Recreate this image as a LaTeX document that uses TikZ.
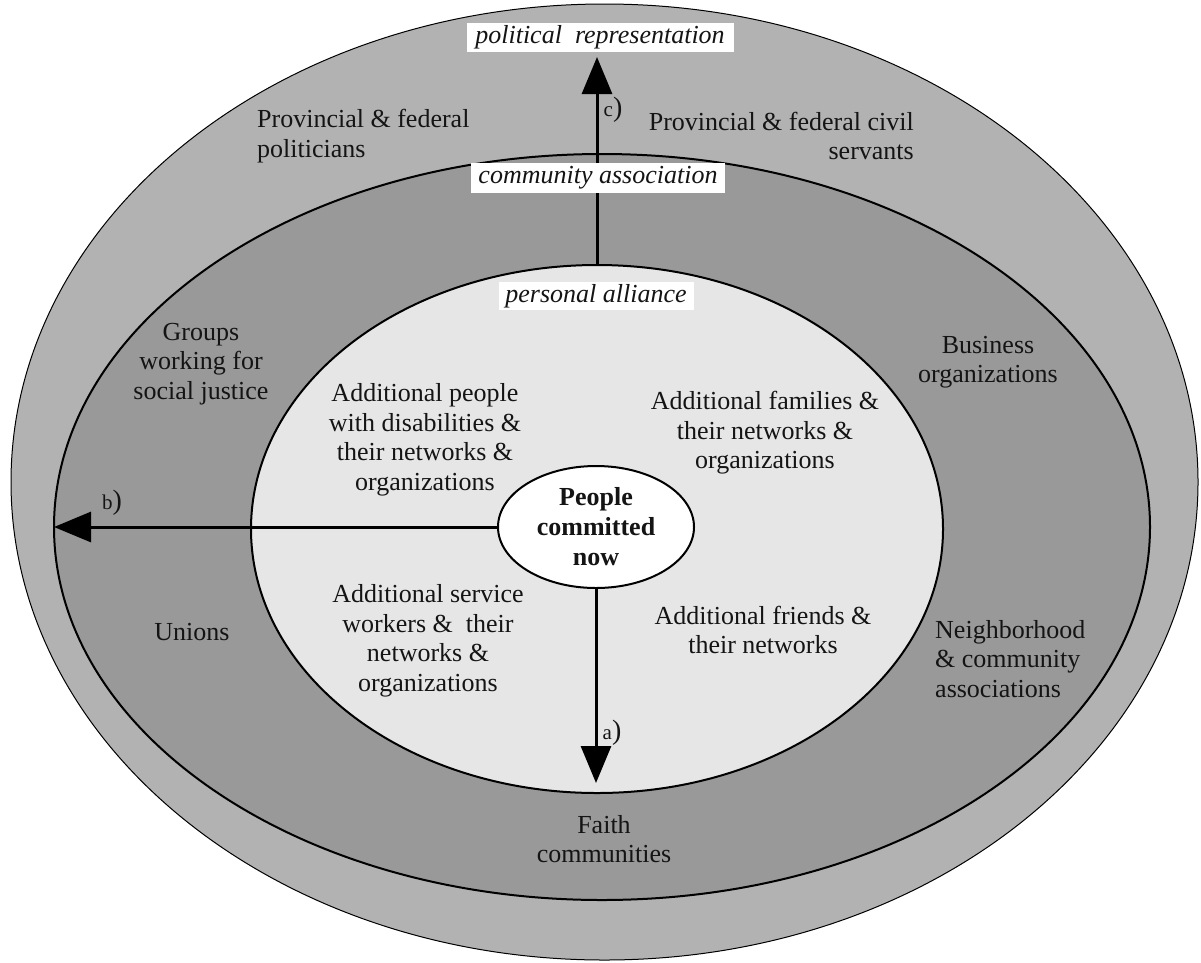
\documentclass[tikz,border=0pt]{standalone}
\usepackage{fontspec}
\setmainfont{Liberation Serif}
\usetikzlibrary{shapes.geometric,arrows.meta}
\definecolor{c1}{HTML}{B2B2B2}
\definecolor{c2}{HTML}{999999}
\definecolor{c3}{HTML}{E6E6E6}
\definecolor{txtc}{HTML}{141414}
\newcommand{\tagtext}[1]{{\fontsize{21}{24}\selectfont #1}{\fontsize{28}{30}\selectfont )}}
\begin{document}
\begin{tikzpicture}[x=1pt,y=-1pt,
  txt/.style={font=\fontsize{26}{29.5}\selectfont, text=txtc, inner sep=0pt, align=center},
  ring/.style={ellipse, draw=black, inner sep=0pt, outer sep=0pt},
  lab/.style={fill=white, inner sep=0pt, font=\fontsize{26}{29.5}\selectfont\itshape, text=txtc},
  arr/.style={line width=3pt, -{Triangle[length=37pt,width=30pt]}},
  tag/.style={text=txtc, inner sep=0pt}]
\useasboundingbox (0,0) rectangle (1201,962);
\fill[white] (0,0) rectangle (1201,962);
\node[ring, fill=c1, line width=1pt, minimum width=1187pt, minimum height=956pt] (outer) at (604.5,482) {};
\node[ring, fill=c2, line width=2pt, minimum width=1096pt, minimum height=746pt] (mid) at (602,527) {};
\node[ring, fill=c3, line width=2pt, minimum width=692pt, minimum height=528pt] (inner) at (597,529) {};
\node[ring, fill=white, line width=2pt, minimum width=196pt, minimum height=122pt, txt, font=\fontsize{26}{30}\selectfont\bfseries] (pc) at (596,527) {People\\committed\\now};
\coordinate (atip) at (596,783);
\coordinate (ctip) at (597,57);
\draw[arr] (pc.west) -- (mid.west);
\draw[arr] (pc.south) -- (atip);
\draw[arr] (inner.north) -- (ctip);
\node[lab, minimum width=267pt, minimum height=29pt] (pol) at (600,37.5) {political~ representation};
\node[lab, minimum width=254pt, minimum height=30pt] (comm) at (598,178) {community association};
\node[lab, minimum width=195pt, minimum height=28pt] (pers) at (596,296) {personal alliance};
\node[txt, align=left, anchor=west] (prov1) at (257,136) {Provincial \& federal\\politicians};
\node[txt, align=right, anchor=east] (prov2) at (914,136) {Provincial \& federal civil\\servants};
\node[txt] (groups) at (201,364) {Groups\\working for\\social justice};
\node[txt] (adp) at (425,440) {Additional people\\with disabilities \&\\their networks \&\\organizations};
\node[txt] (adf) at (765,433) {Additional families \&\\their networks \&\\organizations};
\node[txt] (bus) at (988,362) {Business\\organizations};
\node[txt] (ads) at (428,641) {Additional service\\workers \&~ their\\networks \&\\organizations};
\node[txt] (uni) at (192,632) {Unions};
\node[txt] (adfr) at (763,630) {Additional friends \&\\their networks};
\node[txt, align=left, anchor=west] (nei) at (935,659) {Neighborhood\\\& community\\associations};
\node[txt] (faith) at (604,839) {Faith\\communities};
\node[tag] (tb) at (112,503) {\tagtext{b}};
\node[tag] (ta) at (612,733) {\tagtext{a}};
\node[tag] (tc) at (613,110) {\tagtext{c}};
\end{tikzpicture}
\end{document}
